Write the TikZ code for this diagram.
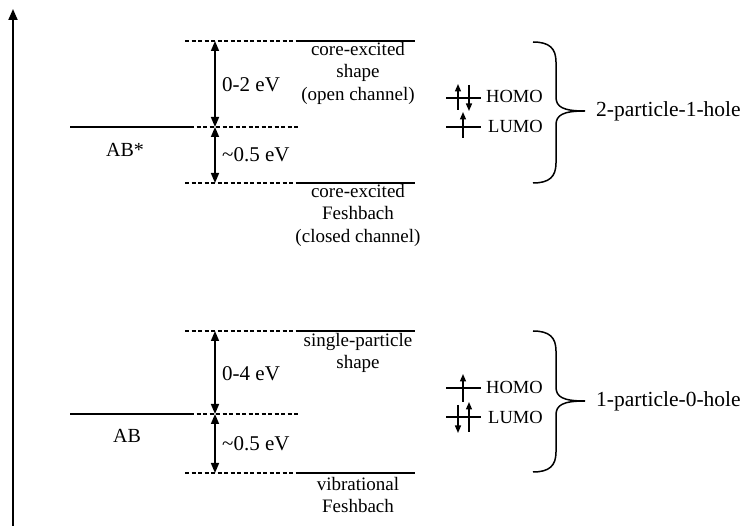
\documentclass[tikz,border=0pt]{standalone}
\usepackage{fontspec}
\setmainfont{Liberation Serif}
\usetikzlibrary{arrows.meta}
\begin{document}
\begin{tikzpicture}[x=1pt,y=-1pt,
  lvl/.style={line width=1.5pt},
  dsh/.style={line width=1.3pt, dash pattern=on 4pt off 2.5pt},
  dbl/.style={line width=1.5pt, {Triangle[length=10pt,width=8pt]}-{Triangle[length=10pt,width=8pt]}},
  axis/.style={line width=1.9pt, -{Triangle[length=11pt,width=9pt]}},
  orb/.style={line width=1.3pt},
  spin/.style={line width=1.3pt, -{Triangle[length=7.5pt,width=6pt]}},
  brc/.style={line width=1.5pt},
  ev/.style={font=\fontsize{21}{24}\selectfont, anchor=west, inner sep=0pt},
  mol/.style={font=\fontsize{20}{24}\selectfont, inner sep=0pt},
  kind/.style={font=\fontsize{19}{22.5}\selectfont, align=center, inner sep=0pt},
  mo/.style={font=\fontsize{18.5}{22}\selectfont, anchor=west, inner sep=0pt},
  cls/.style={font=\fontsize{21.5}{25}\selectfont, anchor=west, inner sep=0pt}
]
\useasboundingbox (0,0) rectangle (748,526);

% energy axis
\coordinate (ax0) at (13,526);
\coordinate (ax1) at (13,9);
\draw[axis] (ax0) -- (ax1);

% ---------- upper group ----------
\coordinate (uT0) at (185,41);  \coordinate (uT1) at (298,41);  \coordinate (uT2) at (415,41);
\coordinate (uM0) at (70,127);  \coordinate (uM1) at (190,127); \coordinate (uM2) at (300,127);
\coordinate (uB0) at (185,183); \coordinate (uB1) at (298,183); \coordinate (uB2) at (415,183);
\coordinate (uAt) at (215,41);  \coordinate (uAm) at (215,127); \coordinate (uAb) at (215,183);
\draw[dsh] (uT0) -- (uT1); \draw[lvl] (uT1) -- (uT2);
\draw[lvl] (uM0) -- (uM1); \draw[dsh] (uM1) -- (uM2);
\draw[dsh] (uB0) -- (uB1); \draw[lvl] (uB1) -- (uB2);
\draw[dbl] (uAt) -- (uAm);
\draw[dbl] (uAm) -- (uAb);
\node[ev] (e1) at (222,85) {0-2 eV};
\node[ev] (e2) at (222,155) {\textasciitilde0.5 eV};
\node[mol] (abs) at (125,150) {AB*};
\node[kind] (k1) at (358,73) {core-excited\\shape\\(open channel)};
\node[kind] (k2) at (358,215) {core-excited\\Feshbach\\(closed channel)};

% orbitals upper
\coordinate (uh0) at (446,98);  \coordinate (uh1) at (481,98);
\coordinate (ul0) at (446,127); \coordinate (ul1) at (481,127);
\draw[orb] (uh0) -- (uh1);
\draw[orb] (ul0) -- (ul1);
\coordinate (s1a) at (458,110); \coordinate (s1b) at (458,84);
\coordinate (s2a) at (469,85);  \coordinate (s2b) at (469,111);
\coordinate (s3a) at (463,138); \coordinate (s3b) at (463,112);
\draw[spin] (s1a) -- (s1b);
\draw[spin] (s2a) -- (s2b);
\draw[spin] (s3a) -- (s3b);
\node[mo] (h1) at (486,96) {HOMO};
\node[mo] (l1) at (488,126) {LUMO};

% brace upper
\coordinate (ub0) at (533,42);
\coordinate (ubt) at (585,111);
\coordinate (ub1) at (533,183);
\draw[brc] (ub0) .. controls (549,42) and (556,48) .. (556,62) -- (556,97)
  .. controls (556,107) and (563,111) .. (ubt)
  .. controls (563,111) and (556,115) .. (556,125) -- (556,163)
  .. controls (556,177) and (549,183) .. (ub1);
\node[cls] (c1) at (596,111) {2-particle-1-hole};

% ---------- lower group ----------
\coordinate (lT0) at (185,331); \coordinate (lT1) at (298,331); \coordinate (lT2) at (415,331);
\coordinate (lM0) at (70,414);  \coordinate (lM1) at (190,414); \coordinate (lM2) at (300,414);
\coordinate (lB0) at (185,473); \coordinate (lB1) at (298,473); \coordinate (lB2) at (415,473);
\coordinate (lAt) at (215,331); \coordinate (lAm) at (215,414); \coordinate (lAb) at (215,473);
\draw[dsh] (lT0) -- (lT1); \draw[lvl] (lT1) -- (lT2);
\draw[lvl] (lM0) -- (lM1); \draw[dsh] (lM1) -- (lM2);
\draw[dsh] (lB0) -- (lB1); \draw[lvl] (lB1) -- (lB2);
\draw[dbl] (lAt) -- (lAm);
\draw[dbl] (lAm) -- (lAb);
\node[ev] (e3) at (222,374) {0-4 eV};
\node[ev] (e4) at (222,444) {\textasciitilde0.5 eV};
\node[mol] (ab) at (127,436) {AB};
\node[kind] (k3) at (358,353) {single-particle\\shape};
\node[kind] (k4) at (358,495) {vibrational\\Feshbach};

% orbitals lower
\coordinate (lh0) at (446,388); \coordinate (lh1) at (481,388);
\coordinate (ll0) at (446,417); \coordinate (ll1) at (481,417);
\draw[orb] (lh0) -- (lh1);
\draw[orb] (ll0) -- (ll1);
\coordinate (t1a) at (463,402); \coordinate (t1b) at (463,374);
\coordinate (t2a) at (458,405); \coordinate (t2b) at (458,433);
\coordinate (t3a) at (469,432); \coordinate (t3b) at (469,402);
\draw[spin] (t1a) -- (t1b);
\draw[spin] (t2a) -- (t2b);
\draw[spin] (t3a) -- (t3b);
\node[mo] (h2) at (486,387) {HOMO};
\node[mo] (l2) at (488,417) {LUMO};

% brace lower
\coordinate (lb0) at (533,331);
\coordinate (lbt) at (585,401);
\coordinate (lb1) at (533,472);
\draw[brc] (lb0) .. controls (549,331) and (556,337) .. (556,351) -- (556,387)
  .. controls (556,397) and (563,401) .. (lbt)
  .. controls (563,401) and (556,405) .. (556,415) -- (556,452)
  .. controls (556,466) and (549,472) .. (lb1);
\node[cls] (c2) at (596,401) {1-particle-0-hole};
\end{tikzpicture}
\end{document}
